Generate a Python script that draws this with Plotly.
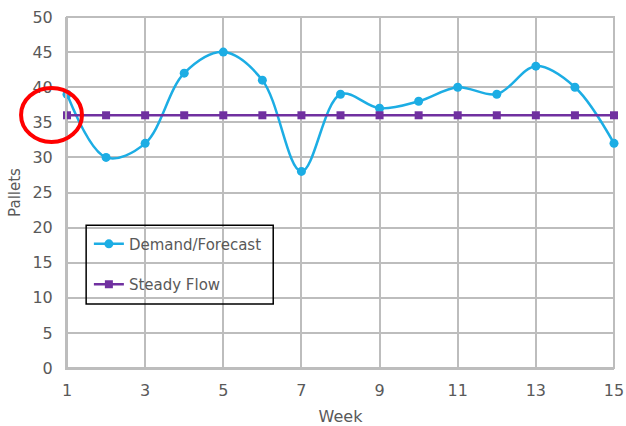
import plotly.graph_objects as go

weeks = list(range(1, 16))
demand = [39, 30, 32, 42, 45, 41, 28, 39, 37, 38, 40, 39, 43, 40, 32]
steady = [36] * 15
x_ticks = [1, 3, 5, 7, 9, 11, 13, 15]

FONT = "DejaVu Sans"
GRAY = "#595959"
GRID = "#bdbdbd"

fig = go.Figure()
fig.add_trace(go.Scatter(
    x=weeks, y=demand, name="Demand/Forecast", mode="lines+markers",
    line=dict(color="#1CADE4", width=2.5, shape="spline", smoothing=1.0),
    marker=dict(symbol="circle", size=9, color="#1CADE4"),
    legendgroup="a", cliponaxis=False,
))
fig.add_trace(go.Scatter(
    x=weeks, y=steady, name="Steady Flow", mode="lines+markers",
    line=dict(color="#7030A0", width=2.5),
    marker=dict(symbol="square", size=8, color="#7030A0"),
    legendgroup="b", cliponaxis=False,
))

fig.update_layout(
    width=626, height=426,
    margin=dict(l=67, r=12, t=17, b=58, autoexpand=False),
    paper_bgcolor="white", plot_bgcolor="white",
    font=dict(family=FONT, size=16, color=GRAY),
    showlegend=True,
    legend=dict(
        x=0.04, y=0.40, xanchor="left", yanchor="top",
        bgcolor="rgba(0,0,0,0)", borderwidth=0,
        font=dict(family=FONT, size=15, color=GRAY),
        traceorder="grouped", tracegroupgap=18,
    ),
    xaxis=dict(
        range=[1, 15], tickvals=x_ticks, showgrid=True, gridcolor=GRID, gridwidth=2,
        showline=True, linecolor=GRID, linewidth=2, zeroline=False,
        ticks="", ticklabelstandoff=7, automargin=False,
        title=dict(text="Week", font=dict(family=FONT, size=16, color=GRAY), standoff=14),
        tickfont=dict(family=FONT, size=16, color=GRAY),
    ),
    yaxis=dict(
        range=[0, 50], dtick=5, showgrid=True, gridcolor=GRID, gridwidth=2,
        showline=True, linecolor=GRID, linewidth=2, zeroline=False,
        ticks="", ticklabelstandoff=9, automargin=False,
        title=dict(text="Pallets", font=dict(family=FONT, size=15, color=GRAY), standoff=8),
        tickfont=dict(family=FONT, size=16, color=GRAY),
    ),
)

# plot border top/right
fig.add_shape(type="rect", xref="paper", yref="paper", x0=0, y0=0, x1=1, y1=1,
              line=dict(color=GRID, width=2), layer="below")
# legend box
fig.add_shape(type="rect", xref="paper", yref="paper", x0=0.035, y0=0.182, x1=0.377, y1=0.407,
              line=dict(color="black", width=1.5), layer="above")
# red circle annotation
fig.add_shape(type="circle", xref="paper", yref="paper", x0=-0.084, y0=0.644, x1=0.0274, y1=0.798,
              line=dict(color="#FF0000", width=4), layer="above")

fig.write_html("out.html")
